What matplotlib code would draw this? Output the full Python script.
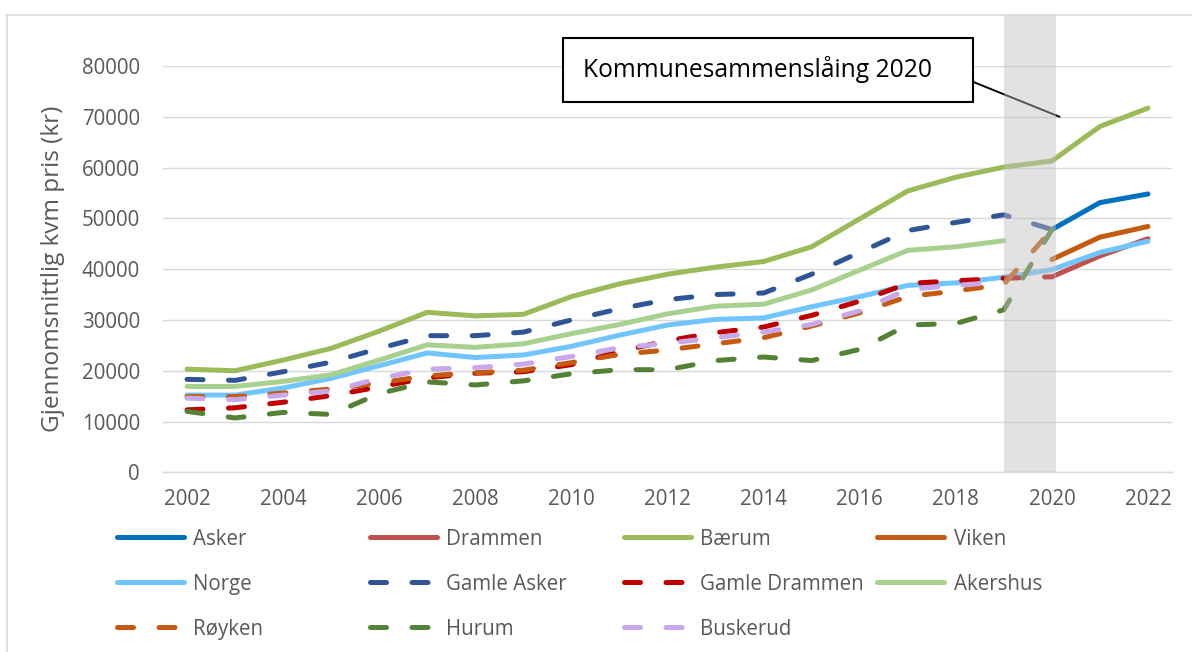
import matplotlib
matplotlib.use('Agg')
import matplotlib.pyplot as plt
import numpy as np
from matplotlib.lines import Line2D
from matplotlib.patches import Rectangle

plt.rcParams['font.family'] = ['Open Sans', 'DejaVu Sans']

# ---------------- data ----------------
years = list(range(2002, 2023))
N = None
asker = [N] * 18 + [47800, 53100, 54800]
drammen = [N] * 18 + [38500, 42600, 46000]
baerum = [20300, 20000, 22100, 24400, 27800, 31500, 30800, 31100, 34600, 37100, 39000,
          40400, 41500, 44400, 49900, 55400, 58100, 60100, 61300, 68100, 71700]
viken = [N] * 18 + [41900, 46300, 48400]
norge = [15200, 15200, 16600, 18500, 21000, 23500, 22600, 23100, 24800, 27000, 29000,
         30100, 30400, 32600, 34600, 36800, 37300, 38400, 39900, 43300, 45500]
gamle_asker = [18300, 18100, 19800, 21700, 24400, 26900, 26900, 27600, 30000, 32200, 34000,
               35000, 35300, 39000, 43300, 47600, 49200, 50700, 47800, N, N]
gamle_drammen = [12300, 12700, 13800, 15100, 16800, 18600, 19500, 19800, 21200, 23800, 25900,
                 27500, 28600, 30900, 33700, 37200, 37700, 38200, 38500, N, N]
akershus = [16900, 16900, 17900, 19200, 22100, 25100, 24600, 25300, 27300, 29100, 31200,
            32700, 33100, 35900, 39800, 43700, 44400, 45600, N, N, N]
royken = [14900, 14900, 15600, 16400, 17600, 19000, 19600, 20100, 21600, 23200, 24100,
          25300, 26500, 28800, 31400, 34600, 35700, 37000, 47800, N, N]
hurum = [12000, 10700, 11800, 11400, 15500, 17800, 17200, 18000, 19400, 20200, 20200,
         22000, 22700, 22000, 24200, 29000, 29300, 32000, 47800, N, N]
buskerud = [14600, 14300, 15200, 16000, 18500, 20300, 20600, 21300, 22800, 24500, 25400,
            26500, 27600, 29100, 31800, 36000, 36800, 37500, N, N, N]

labels = ['Asker', 'Drammen', 'Bærum', 'Viken', 'Norge', 'Gamle Asker', 'Gamle Drammen',
          'Akershus', 'Røyken', 'Hurum', 'Buskerud']
series = [asker, drammen, baerum, viken, norge, gamle_asker, gamle_drammen,
          akershus, royken, hurum, buskerud]
colors = ['#0070C0', '#C0504D', '#9BBB59', '#C55A11', '#71C5FF', '#2F5597', '#C00000',
          '#A9D18E', '#C55A11', '#548235', '#C9A7EB']
dashed = [False, False, False, False, False, True, True, False, True, True, True]

x_ticks = list(range(2002, 2023, 2))
y_ticks = list(range(0, 80001, 10000))
ylabel = 'Gjennomsnittlig kvm pris (kr)'
note = 'Kommunesammenslåing 2020'
merge_start, merge_end = 2019.0, 2020.09

# ---------------- layout ----------------
W, H = 1192, 652
fig = plt.figure(figsize=(W / 100, H / 100), dpi=100)
ax = fig.add_axes([163 / W, 1 - 472.3 / H, (1172 - 163) / W, (472.3 - 66) / H])

def fx(x):
    return x / W

def fy(y):
    return 1 - y / H

LW = 3.6
DASH = (0, (3.2, 5.1))

for vals, c, d in zip(series, colors, dashed):
    arr = np.array([np.nan if v is None else v for v in vals], dtype=float)
    ax.plot(years, arr, color=c, lw=LW, ls=DASH if d else '-',
            solid_capstyle='round', dash_capstyle='round',
            solid_joinstyle='round', dash_joinstyle='round', zorder=3)

ax.set_xlim(2001.5, 2022.5)
ax.set_ylim(0, 80000)
ax.set_xticks(x_ticks)
ax.set_yticks(y_ticks)
ax.set_xticklabels([str(t) for t in x_ticks])
ax.set_yticklabels([str(t) for t in y_ticks])
ax.grid(axis='y', color='#D9D9D9', lw=1.0)
ax.set_axisbelow(True)
for s in ['top', 'right', 'left']:
    ax.spines[s].set_visible(False)
ax.spines['bottom'].set_color('#D9D9D9')
ax.spines['bottom'].set_linewidth(1.0)
ax.tick_params(axis='both', length=0, labelsize=14.8, colors='#595959')
ax.tick_params(axis='y', pad=16.5)
ax.tick_params(axis='x', pad=12)

ax.set_ylabel(ylabel, fontsize=17.5, color='#595959', va='center', ha='center')
ax.yaxis.set_label_coords((53 - 163) / 1009, 0.5)

# shaded merger period (drawn over the lines)
ax.add_patch(Rectangle((merge_start, 0), merge_end - merge_start, 90000,
                       facecolor='#BFBFBF', alpha=0.45, edgecolor='none',
                       zorder=10, clip_on=False))

# callout line
ax.annotate('', xy=(2020.16, 70000), xycoords='data',
            xytext=(fx(972.7), fy(81.7)), textcoords='figure fraction',
            arrowprops=dict(arrowstyle='-', color='black', lw=1.4, shrinkA=0, shrinkB=0),
            zorder=9, annotation_clip=False)

# callout box
fig.add_artist(Rectangle((fx(563), fy(101.7)), (972.7 - 563) / W, (101.7 - 38.3) / H,
                         transform=fig.transFigure, facecolor='white', edgecolor='black',
                         lw=1.5, zorder=20))
fig.text(fx(583), fy(77), note, fontsize=17.7, color='black', va='baseline',
         ha='left', zorder=21)

# outer chart border
fig.add_artist(Line2D([fx(7.5), 1.0], [fy(15), fy(15)], color='#D9D9D9', lw=1.2,
                      transform=fig.transFigure))
fig.add_artist(Line2D([fx(7.5), fx(7.5)], [0, fy(15)], color='#D9D9D9', lw=1.2,
                      transform=fig.transFigure))

# legend (4 columns, row-wise)
col_x = [114, 367.5, 621, 874.5]
row_y = [537.3, 582.3, 627.3]
for i, (lab, c, d) in enumerate(zip(labels, colors, dashed)):
    r, k = divmod(i, 4)
    x0 = col_x[k]
    y0 = row_y[r]
    fig.add_artist(Line2D([fx(x0 + 2.5), fx(x0 + 69.5)], [fy(y0), fy(y0)],
                          color=c, lw=LW, ls=DASH if d else '-',
                          solid_capstyle='round', dash_capstyle='round',
                          transform=fig.transFigure))
    fig.text(fx(x0 + 79), fy(y0 + 7.3), lab, fontsize=14.8, color='#595959',
             va='baseline', ha='left')

fig.savefig('out.png', dpi=100, facecolor='white')
